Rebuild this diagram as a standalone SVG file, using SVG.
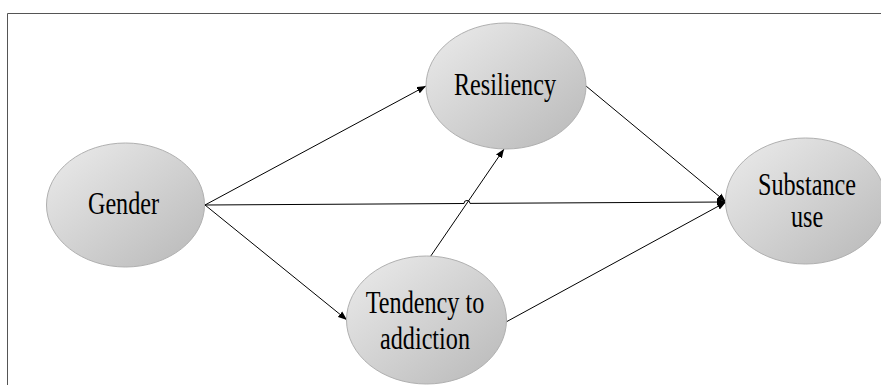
<svg xmlns="http://www.w3.org/2000/svg" width="881" height="385" viewBox="0 0 881 385">
<style>
.node{fill:url(#g);stroke:#b0b0b0;stroke-width:1}
.lbl{font-family:'Liberation Serif','Times New Roman',serif;font-size:31px;fill:#000;text-anchor:middle}
.edge{stroke:#000;stroke-width:1;fill:none}
</style>
<defs>
<linearGradient id="g" x1="0" y1="0" x2="1" y2="1">
<stop offset="0" stop-color="#ececec"/>
<stop offset="1" stop-color="#b8b8b8"/>
</linearGradient>
<marker id="a" markerWidth="10" markerHeight="8" refX="9" refY="4" orient="auto" markerUnits="userSpaceOnUse">
<path d="M0,0.5 L9,4 L0,7.5 Z" fill="#000"/>
</marker>
</defs>
<rect width="881" height="385" fill="#fff"/>
<path d="M7.5,385 V13.5 H881" fill="none" stroke="#555" stroke-width="1"/>
<g id="connectors">
<path class="edge" d="M205,205 L426,86" marker-end="url(#a)"/>
<path class="edge" d="M205,205 L347,320" marker-end="url(#a)"/>
<path class="edge" d="M205,205 L464,203.5 A3,3 0 0 1 470,203.4 L726,202" marker-end="url(#a)"/>
<path class="edge" d="M586,86 L726,202" marker-end="url(#a)"/>
<path class="edge" d="M426,263 L504,149" marker-end="url(#a)"/>
<path class="edge" d="M506,322 L726,202" marker-end="url(#a)"/>
</g>
<g id="gender">
<ellipse class="node" cx="125.5" cy="205" rx="79" ry="62"/>
<text class="lbl" transform="translate(123.5,214) scale(0.78,1)">Gender</text>
</g>
<g id="resiliency">
<ellipse class="node" cx="506" cy="86" rx="80" ry="63"/>
<text class="lbl" transform="translate(505,95) scale(0.78,1)">Resiliency</text>
</g>
<g id="substance">
<ellipse class="node" cx="805.5" cy="201" rx="80" ry="63"/>
<text class="lbl" transform="translate(807,195) scale(0.78,1)">Substance</text>
<text class="lbl" transform="translate(807,227) scale(0.78,1)">use</text>
</g>
<g id="tendency">
<ellipse class="node" cx="426.5" cy="320" rx="80" ry="64"/>
<text class="lbl" transform="translate(425,313) scale(0.78,1)">Tendency to</text>
<text class="lbl" transform="translate(425,349) scale(0.78,1)">addiction</text>
</g>
</svg>
